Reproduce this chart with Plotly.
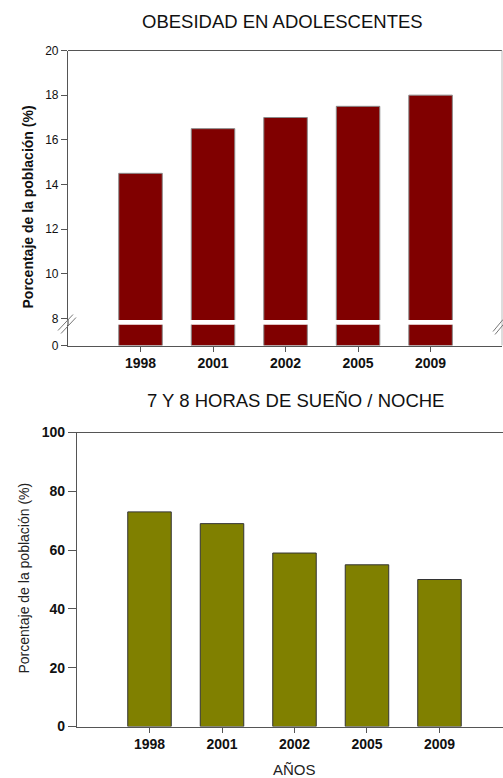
import plotly.graph_objects as go

# ---- data ----
years = ["1998", "2001", "2002", "2005", "2009"]
obesidad = [14.5, 16.5, 17.0, 17.5, 18.0]
sueno = [73, 69, 59, 55, 50]
obes_ticks = [8, 10, 12, 14, 16, 18, 20]
sueno_ticks = [0, 20, 40, 60, 80, 100]

W, H = 503, 778
FONT = "Liberation Sans, Arial, sans-serif"
AX = "#555555"

# vertical calibration of the photographed page (observed: y' = 7.5 + y*762/778)
Y0, HE = 7.5, 762.0


def px(py):
    return 1 - (py - Y0) / HE


def pxx(x):
    return x / W


fig = go.Figure()

# top chart: upper segment and lower (0) segment of the broken axis
fig.add_trace(go.Bar(x=years, y=obesidad, width=0.6, xaxis="x", yaxis="y",
                     marker=dict(color="#800000", line=dict(color="#8a8a8a", width=1))))
fig.add_trace(go.Bar(x=years, y=obesidad, width=0.6, xaxis="x", yaxis="y2",
                     marker=dict(color="#800000", line=dict(color="#8a8a8a", width=1))))
# bottom chart
fig.add_trace(go.Bar(x=years, y=sueno, width=0.6, xaxis="x2", yaxis="y3",
                     marker=dict(color="#808000", line=dict(color="#333333", width=1))))

tickfont_reg = dict(family=FONT, size=12, color="#111")
tickfont_bold = dict(family=FONT, size=14, color="#111", weight="bold")

fig.update_layout(
    width=W, height=H, margin=dict(l=0, r=0, t=0, b=0),
    paper_bgcolor="white", plot_bgcolor="white", showlegend=False,
    xaxis=dict(domain=[pxx(68), pxx(502)], range=[-1, 4.985], anchor="y2",
               showline=True, linecolor=AX, linewidth=1.2, ticks="outside", ticklen=5,
               tickcolor=AX, tickfont=tickfont_bold, showgrid=False, zeroline=False),
    yaxis=dict(domain=[px(319.5), px(50)], range=[7.933, 20], anchor="x",
               tickvals=obes_ticks, showline=True, linecolor=AX, linewidth=1.2,
               ticks="outside", ticklen=6, tickcolor=AX, tickfont=tickfont_reg,
               showgrid=False, zeroline=False),
    yaxis2=dict(domain=[px(345), px(324.3)], range=[0, 1], anchor="x",
                tickvals=[0], showline=True, linecolor=AX, linewidth=1.2,
                ticks="outside", ticklen=6, tickcolor=AX, tickfont=tickfont_reg,
                showgrid=False, zeroline=False),
    xaxis2=dict(domain=[pxx(77), 1], range=[-1, 4.876], anchor="y3",
                showline=True, mirror=True, linecolor=AX, linewidth=1.2, ticks="outside",
                ticklen=5, tickcolor=AX, tickfont=tickfont_bold, showgrid=False,
                zeroline=False),
    yaxis3=dict(domain=[px(726), px(432)], range=[0, 100], anchor="x2",
                tickvals=sueno_ticks, showline=True, linecolor=AX, linewidth=1.2,
                ticks="outside", ticklen=8, tickcolor=AX, tickfont=tickfont_bold,
                showgrid=False, zeroline=False),
)

shapes = [
    # top frame: top edge, right edge, fill of left axis through the break
    dict(type="line", xref="paper", yref="paper", x0=pxx(68), x1=pxx(502), y0=px(50), y1=px(50),
         line=dict(color=AX, width=1.2)),
    dict(type="line", xref="paper", yref="paper", x0=pxx(502), x1=pxx(502), y0=px(50), y1=px(345),
         line=dict(color="#bbbbbb", width=1)),
    dict(type="line", xref="paper", yref="paper", x0=pxx(68), x1=pxx(68), y0=px(319), y1=px(325),
         line=dict(color=AX, width=1.2)),
    # break marks, left
    dict(type="line", xref="paper", yref="paper", x0=pxx(58), x1=pxx(73), y0=px(330), y1=px(314),
         line=dict(color="#777777", width=1)),
    dict(type="line", xref="paper", yref="paper", x0=pxx(61), x1=pxx(76), y0=px(333), y1=px(317),
         line=dict(color="#777777", width=1)),
    # break marks, right
    dict(type="line", xref="paper", yref="paper", x0=pxx(493), x1=pxx(503), y0=px(331), y1=px(319),
         line=dict(color="#777777", width=1)),
    dict(type="line", xref="paper", yref="paper", x0=pxx(495), x1=pxx(505), y0=px(334), y1=px(322),
         line=dict(color="#777777", width=1)),
]
fig.update_layout(shapes=shapes)

annotations = [
    dict(text="OBESIDAD EN ADOLESCENTES", x=pxx(282), y=px(21), xref="paper", yref="paper",
         showarrow=False, xanchor="center", yanchor="middle",
         font=dict(family=FONT, size=18.5, color="#111")),
    dict(text="7 Y 8 HORAS DE SUEÑO / NOCHE", x=pxx(295), y=px(400), xref="paper", yref="paper",
         showarrow=False, xanchor="center", yanchor="middle",
         font=dict(family=FONT, size=18.5, color="#111")),
    dict(text="AÑOS", x=pxx(294), y=px(769), xref="paper", yref="paper",
         showarrow=False, xanchor="center", yanchor="middle",
         font=dict(family=FONT, size=15, color="#222")),
    dict(text="<b>Porcentaje de la población (%)</b>", x=pxx(28), y=px(207), xref="paper",
         yref="paper", showarrow=False, textangle=-90, xanchor="center", yanchor="middle",
         font=dict(family=FONT, size=14, color="#111")),
    dict(text="Porcentaje de la población (%)", x=pxx(23), y=px(578), xref="paper",
         yref="paper", showarrow=False, textangle=-90, xanchor="center", yanchor="middle",
         font=dict(family=FONT, size=14, color="#222")),
]
fig.update_layout(annotations=annotations)

POST = (
    "document.documentElement.style.margin='0';"
    "document.documentElement.style.padding='0';"
    "document.body.style.margin='0';document.body.style.padding='0';"
    "document.body.style.overflow='hidden';"
    "var g=document.querySelector('.plotly-graph-div');"
    "if(g){g.style.position='fixed';g.style.top='0';g.style.left='0';}"
)

fig.write_html("out.html", config={"displayModeBar": False}, post_script=POST)
